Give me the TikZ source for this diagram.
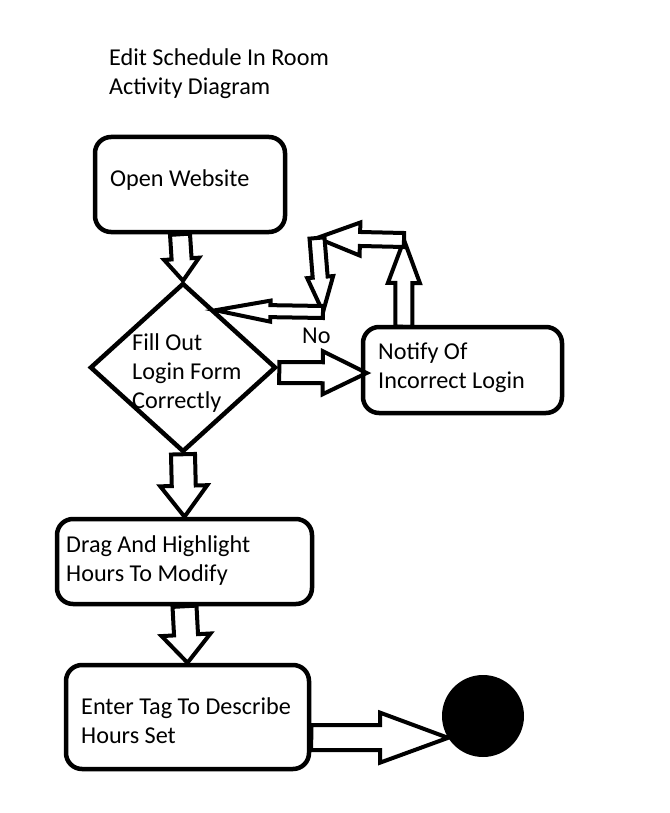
\documentclass[tikz,border=0pt]{standalone}
\usepackage{fontspec}
\setmainfont{Carlito}
\usetikzlibrary{shapes.geometric,calc,backgrounds}
% block arrow: from, to, shaft half width, head half width, head length
\newcommand\blockarrow[5]{%
  \coordinate (ba-h) at ($(#2)!#5!(#1)$);
  \draw[arrowline] ($(#1)!#3!90:(#2)$) -- ($(ba-h)!#3!90:(#2)$) -- ($(ba-h)!#4!90:(#2)$) -- (#2)
    -- ($(ba-h)!#4!-90:(#2)$) -- ($(ba-h)!#3!-90:(#2)$) -- ($(#1)!#3!-90:(#2)$) -- cycle;
}
\begin{document}
\begin{tikzpicture}[x=1pt,y=-1pt,
  txt/.style={font=\fontsize{24.2}{29}\selectfont, inner sep=0pt, anchor=base west, align=left},
  box/.style={draw, line width=4.5pt, rounded corners=16pt, inner sep=0pt},
  diam/.style={shape=diamond, draw, line width=4.5pt, inner sep=0pt},
  arrowline/.style={draw, line width=4pt, fill=white, line join=miter}]
\useasboundingbox (0,0) rectangle (669,813);

% nodes
\node[box, minimum width=190pt, minimum height=95pt] (open) at (190,184.5) {};
\node[diam, minimum width=186pt, minimum height=169pt] (login) at (183,367.5) {};
\node[box, minimum width=199pt, minimum height=86pt] (notify) at (462.5,370) {};
\node[box, minimum width=255pt, minimum height=85pt] (drag) at (184.5,561.5) {};
\node[box, minimum width=243pt, minimum height=104pt] (enter) at (187.5,717) {};
\node[circle, fill, minimum size=82pt, inner sep=0pt] (end) at (483,716) {};

% texts (base anchor = baseline of the last line)
\node[txt] (title) at (109,95) {Edit Schedule In Room\\Activity Diagram};
\node[txt] (t-open) at (110,186) {Open Website};
\node[txt] (t-login) at (132,408) {Fill Out\\Login Form\\Correctly};
\node[txt] (t-notify) at (378,388) {Notify Of\\Incorrect Login};
\node[txt] (t-drag) at (66,581) {Drag And Highlight\\Hours To Modify};
\node[txt] (t-enter) at (81,743) {Enter Tag To Describe\\Hours Set};
\node[txt] (no) at (302,343) {No};

% connector points
\coordinate (a1s) at ($(open.south)+(-10,0)$);
\coordinate (a2s) at ($(login.east)+(1,5)$);
\coordinate (a2e) at ($(notify.west)+(6,3)$);
\coordinate (a3s) at ($(notify.north west)+(43,2)$);
\coordinate (c1) at (404,240);
\coordinate (c2) at (317,238);
\coordinate (c3) at (323,312);
\coordinate (d1) at ($(login.north)!0.34!(login.east)$);
\coordinate (a5s) at ($(enter.east)+(0,20.5)$);

\begin{scope}[on background layer]
\blockarrow{a1s}{login.north}{10pt}{17.5pt}{22pt}
\blockarrow{a2s}{a2e}{10.5pt}{21.5pt}{44pt}
\blockarrow{a3s}{c1}{8.5pt}{16pt}{43pt}
\blockarrow{c1}{c2}{7pt}{16.5pt}{43pt}
\blockarrow{c2}{c3}{7.5pt}{13pt}{35pt}
\blockarrow{c3}{d1}{6pt}{10.5pt}{55pt}
\blockarrow{login.south}{drag.north}{12pt}{23.5pt}{31pt}
\blockarrow{drag.south}{enter.north}{12pt}{24.5pt}{28pt}
\blockarrow{a5s}{end.212}{12.5pt}{25pt}{68pt}
\end{scope}
\end{tikzpicture}
\end{document}
